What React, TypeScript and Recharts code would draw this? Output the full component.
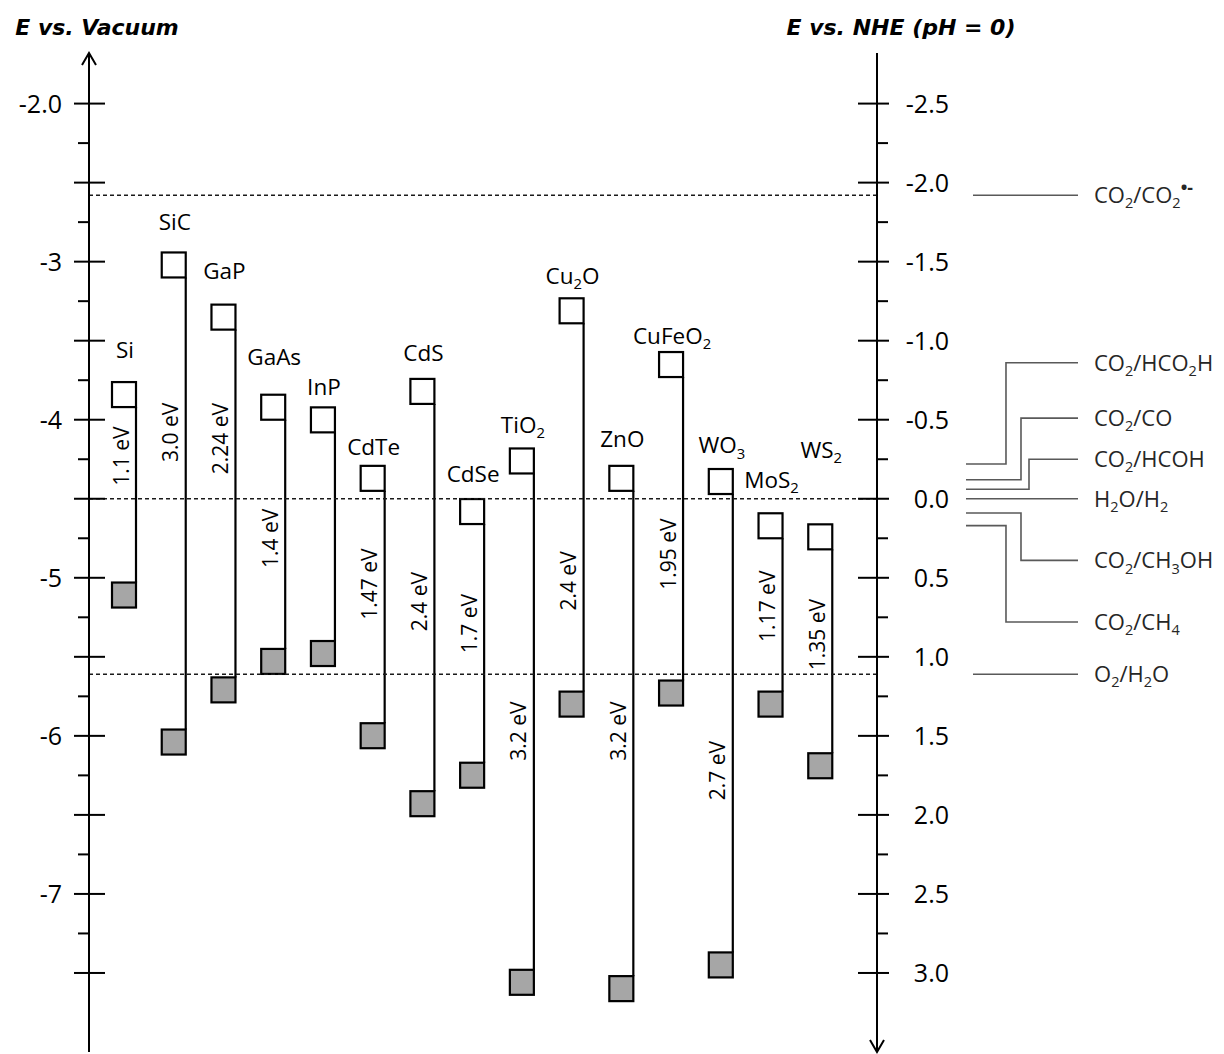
import React from 'react';
import { ComposedChart, LineChart, Bar, Line, XAxis, YAxis, ReferenceLine, Label } from 'recharts';

const FONT = "'Open Sans', 'Noto Sans', 'DejaVu Sans', sans-serif";
const TITLE_FONT = "'DejaVu Sans', 'Open Sans', sans-serif";

// ---------------- data ----------------
const materials = ['Si', 'SiC', 'GaP', 'GaAs', 'InP', 'CdTe', 'CdS', 'CdSe', 'TiO2', 'Cu2O', 'ZnO', 'CuFeO2', 'WO3', 'MoS2', 'WS2'];
const materialLabels = ['Si', 'SiC', 'GaP', 'GaAs', 'InP', 'CdTe', 'CdS', 'CdSe', 'TiO_{2}', 'Cu_{2}O', 'ZnO', 'CuFeO_{2}', 'WO_{3}', 'MoS_{2}', 'WS_{2}'];
// conduction band edge (eV vs vacuum)
const cbEdge = [-3.92, -3.10, -3.43, -4.00, -4.08, -4.45, -3.90, -4.66, -4.34, -3.39, -4.45, -3.73, -4.47, -4.75, -4.82];
// valence band edge (eV vs vacuum)
const vbEdge = [-5.03, -5.96, -5.63, -5.45, -5.40, -5.92, -6.35, -6.17, -7.48, -5.72, -7.52, -5.65, -7.37, -5.72, -6.11];
const gapText = ['1.1 eV', '3.0 eV', '2.24 eV', '1.4 eV', '', '1.47 eV', '2.4 eV', '1.7 eV', '3.2 eV', '2.4 eV', '3.2 eV', '1.95 eV', '2.7 eV', '1.17 eV', '1.35 eV'];
// where the annotations sit (eV vs vacuum)
const gapLabelAt = [-4.23, -4.08, -4.12, -4.75, NaN, -5.04, -5.15, -5.29, -5.97, -5.02, -5.97, -4.85, -6.22, -5.18, -5.36];
const nameLabelAt = [-3.56, -2.75, -3.06, -3.60, -3.79, -4.17, -3.58, -4.34, -4.03, -3.09, -4.12, -3.47, -4.16, -4.38, -4.19];

// axis ticks
const vacMajorTicks = [-2, -2.5, -3, -3.5, -4, -4.5, -5, -5.5, -6, -6.5, -7, -7.5];
const vacMinorTicks = [-2.25, -2.75, -3.25, -3.75, -4.25, -4.75, -5.25, -5.75, -6.25, -6.75, -7.25];
const vacLabeledTicks = [-2, -3, -4, -5, -6, -7];
const vacTickLabels = ['-2.0', '-3', '-4', '-5', '-6', '-7'];
const nheMajorTicks = [-2.5, -2, -1.5, -1, -0.5, 0, 0.5, 1, 1.5, 2, 2.5, 3];
const nheMinorTicks = [-2.25, -1.75, -1.25, -0.75, -0.25, 0.25, 0.75, 1.25, 1.75, 2.25, 2.75];
const nheTickLabels = ['-2.5', '-2.0', '-1.5', '-1.0', '-0.5', '0.0', '0.5', '1.0', '1.5', '2.0', '2.5', '3.0'];

// redox potentials (V vs NHE, pH 0)
const reactionLabels = ['CO_{2}/CO_{2}^{•-}', 'CO_{2}/HCO_{2}H', 'CO_{2}/CO', 'CO_{2}/HCOH', 'H_{2}O/H_{2}', 'CO_{2}/CH_{3}OH', 'CO_{2}/CH_{4}', 'O_{2}/H_{2}O'];
const reactionPotential = [-1.92, -0.22, -0.12, -0.06, 0.0, 0.09, 0.17, 1.11];
const reactionLabelAt = [-1.92, -0.86, -0.51, -0.25, 0.0, 0.39, 0.78, 1.11];
const dashedReactionIdx = [0, 4, 7];

// connector geometry inside the reaction strip (fraction of strip width)
const connectorStart = [0.0625, 0, 0, 0, 0, 0, 0, 0.0625];
const connectorStep = [1, 0.357, 0.491, 0.5625, 1, 0.491, 0.357, 1];

// ---------------- layout ----------------
const WIDTH = 1224;
const HEIGHT = 1054;
const PLOT_TOP = 53;
const PLOT_BOTTOM = 2;
const AXIS_LEFT_X = 89;
const AXIS_RIGHT_X = 877;
const YAXIS_W = 80;
const STRIP_LEFT = 966;
const STRIP_RIGHT = 1078;
const BOX_W = 24;
const BOX_H = 25;
const NHE_ZERO_VAC = -4.5;
const vacDomain: [number, number] = [-8, -1.68];
const nheDomain: [number, number] = [NHE_ZERO_VAC - vacDomain[1], NHE_ZERO_VAC - vacDomain[0]];

const vacTicks = [...vacMajorTicks, ...vacMinorTicks].sort((a, b) => b - a);
const nheTicks = [...nheMajorTicks, ...nheMinorTicks].sort((a, b) => a - b);

// ---------------- helpers ----------------
type Part = { t: string; k: 'n' | 'sub' | 'sup' };
function parseRich(s: string): Part[] {
  const parts: Part[] = [];
  const re = /_\{([^}]*)\}|\^\{([^}]*)\}/g;
  let last = 0;
  let m: RegExpExecArray | null;
  while ((m = re.exec(s))) {
    if (m.index > last) parts.push({ t: s.slice(last, m.index), k: 'n' });
    if (m[1] !== undefined) parts.push({ t: m[1], k: 'sub' });
    else parts.push({ t: m[2], k: 'sup' });
    last = re.lastIndex;
  }
  if (last < s.length) parts.push({ t: s.slice(last), k: 'n' });
  return parts;
}

function RichText({ x, y, text, fontSize, anchor = 'middle', fill = '#000' }: any) {
  const parts = parseRich(text);
  let cur = 0;
  const spans = parts.map((p, i) => {
    const target = p.k === 'sub' ? 0.24 * fontSize : p.k === 'sup' ? -0.4 * fontSize : 0;
    const dy = target - cur;
    cur = target;
    const size = p.k === 'n' ? fontSize : p.k === 'sub' ? fontSize * 0.66 : fontSize * 0.8;
    return (
      <tspan key={i} dy={dy} fontSize={size} fontWeight={p.k === 'sup' ? 700 : 400}>
        {p.t}
      </tspan>
    );
  });
  return (
    <text x={x} y={y + 0.36 * fontSize} textAnchor={anchor} fontSize={fontSize} fontFamily={FONT} fill={fill}>
      {spans}
    </text>
  );
}

const isMajor = (v: number) => Math.abs(v * 2 - Math.round(v * 2)) < 1e-6;
const lookup = (values: number[], labels: string[], v: number) => {
  const i = values.findIndex((t) => Math.abs(t - v) < 1e-6);
  return i >= 0 ? labels[i] : '';
};

const VacTick = (props: any) => {
  const { x, y, payload } = props;
  const v = payload.value;
  const major = isMajor(v);
  const label = lookup(vacLabeledTicks, vacTickLabels, v);
  return (
    <g>
      <line x1={x - (major ? 15 : 11)} x2={x + (major ? 16 : 0)} y1={y} y2={y} stroke="#000" strokeWidth={2} />
      {label ? (
        <text x={x - 27} y={y} dy="0.36em" textAnchor="end" fontSize={25} fontFamily={FONT} fill="#000">
          {label}
        </text>
      ) : null}
    </g>
  );
};

const NheTick = (props: any) => {
  const { x, y, payload } = props;
  const v = payload.value;
  const major = isMajor(v);
  const label = lookup(nheMajorTicks, nheTickLabels, v);
  return (
    <g>
      <line x1={x - (major ? 19 : 0)} x2={x + (major ? 12 : 11)} y1={y} y2={y} stroke="#000" strokeWidth={2} />
      {label ? (
        <text x={x + 72} y={y} dy="0.36em" textAnchor="end" fontSize={25} fontFamily={FONT} fill="#000">
          {label}
        </text>
      ) : null}
    </g>
  );
};

const BandShape = (props: any) => {
  const { x, y, width, height, payload } = props;
  if (!payload) return <g />;
  const top = Math.min(y, y + height);
  const bottom = Math.max(y, y + height);
  const span = payload.cb - payload.vb;
  const toY = (e: number) => top + ((payload.cb - e) / span) * (bottom - top);
  const right = x + width;
  const cx = x + width / 2;
  const gy = toY(payload.gapAt);
  return (
    <g>
      <line x1={right} x2={right} y1={top} y2={bottom} stroke="#000" strokeWidth={2.2} />
      <rect x={x} y={top - BOX_H} width={width} height={BOX_H} fill="#fff" stroke="#000" strokeWidth={2.2} />
      <rect x={x} y={bottom} width={width} height={BOX_H} fill="#a6a6a6" stroke="#000" strokeWidth={2.2} />
      <RichText x={cx + 1} y={toY(payload.nameAt)} text={payload.label} fontSize={22.5} />
      {payload.gap ? (
        <text
          x={cx - 3}
          y={gy}
          dy="0.36em"
          textAnchor="middle"
          fontSize={21}
          fontFamily={FONT}
          fill="#000"
          transform={`rotate(-90 ${cx - 3} ${gy})`}
        >
          {payload.gap}
        </text>
      ) : null}
    </g>
  );
};

const titleStyle = { fontSize: 22, fontFamily: TITLE_FONT, fontWeight: 700, fontStyle: 'italic' as const, fill: '#000' };

export default function App() {
  const rows = materials.map((name, i) => ({
    name,
    label: materialLabels[i],
    cb: cbEdge[i],
    vb: vbEdge[i],
    gap: gapText[i],
    gapAt: gapLabelAt[i],
    nameAt: nameLabelAt[i],
  }));

  const scheme = reactionLabels.map((lab, i) => ({
    label: lab,
    points: [
      { x: connectorStart[i], y: reactionPotential[i] },
      { x: connectorStep[i], y: reactionLabelAt[i] },
      { x: 1, y: reactionLabelAt[i] },
    ],
  }));

  return (
    <div style={{ position: 'absolute', left: 0, top: 0, width: WIDTH, height: HEIGHT, background: '#fff' }}>
      <svg width={0} height={0} style={{ position: 'absolute' }}>
        <defs>
          <marker
            id="axisArrow"
            markerUnits="userSpaceOnUse"
            markerWidth={24}
            markerHeight={24}
            viewBox="-16 -12 24 24"
            refX={0}
            refY={0}
            orient="auto-start-reverse"
            overflow="visible"
          >
            <path d="M -12 -7 L 0 0 L -12 7" fill="none" stroke="#000" strokeWidth={2} />
          </marker>
        </defs>
      </svg>

      <div style={{ position: 'absolute', left: 0, top: 0 }}>
        <ComposedChart
          width={WIDTH}
          height={HEIGHT}
          data={rows}
          margin={{ top: PLOT_TOP, right: WIDTH - AXIS_RIGHT_X - YAXIS_W, bottom: PLOT_BOTTOM, left: AXIS_LEFT_X - YAXIS_W }}
        >
          <XAxis xAxisId="mat" dataKey="name" type="category" hide padding={{ left: 10, right: 32 }} />
          <YAxis
            yAxisId="vac"
            orientation="left"
            type="number"
            domain={vacDomain}
            ticks={vacTicks}
            interval={0}
            width={YAXIS_W}
            tickSize={0}
            tickMargin={0}
            tickLine={false}
            axisLine={{ stroke: '#000', strokeWidth: 2, markerStart: 'url(#axisArrow)' } as any}
            tick={VacTick}
          >
            <Label
              content={(p: any) => {
                const vb = p.viewBox || { x: 9, y: PLOT_TOP, width: YAXIS_W };
                return (
                  <text x={vb.x + vb.width + 8} y={vb.y - 18} textAnchor="middle" {...titleStyle}>
                    E vs. Vacuum
                  </text>
                );
              }}
            />
          </YAxis>
          <YAxis
            yAxisId="nhe"
            orientation="right"
            type="number"
            domain={nheDomain}
            allowDataOverflow
            reversed
            ticks={nheTicks}
            interval={0}
            width={YAXIS_W}
            tickSize={0}
            tickMargin={0}
            tickLine={false}
            axisLine={{ stroke: '#000', strokeWidth: 2, markerEnd: 'url(#axisArrow)' } as any}
            tick={NheTick}
          >
            <Label
              content={(p: any) => {
                const vb = p.viewBox || { x: AXIS_RIGHT_X, y: PLOT_TOP, width: YAXIS_W };
                return (
                  <text x={vb.x + 24} y={vb.y - 18} textAnchor="middle" {...titleStyle}>
                    E vs. NHE (pH = 0)
                  </text>
                );
              }}
            />
          </YAxis>
          {dashedReactionIdx.map((ri) => (
            <ReferenceLine
              key={ri}
              xAxisId="mat"
              yAxisId="nhe"
              y={reactionPotential[ri]}
              stroke="#1a1a1a"
              strokeWidth={1.4}
              strokeDasharray="4 3"
            />
          ))}
          <Bar
            xAxisId="mat"
            yAxisId="vac"
            dataKey={(d: any) => [d.vb, d.cb]}
            barSize={BOX_W}
            shape={BandShape}
            isAnimationActive={false}
          />
        </ComposedChart>
      </div>

      <div style={{ position: 'absolute', left: 0, top: 0, pointerEvents: 'none' }}>
        <LineChart
          width={WIDTH}
          height={HEIGHT}
          margin={{ top: PLOT_TOP, right: WIDTH - STRIP_RIGHT, bottom: PLOT_BOTTOM, left: STRIP_LEFT }}
        >
          <XAxis type="number" dataKey="x" domain={[0, 1]} hide />
          <YAxis type="number" domain={nheDomain} reversed hide />
          {scheme.map((s, i) => (
            <Line
              key={i}
              data={s.points}
              dataKey="y"
              type="stepAfter"
              stroke="#595959"
              strokeWidth={1.6}
              isAnimationActive={false}
              activeDot={false}
              dot={(p: any) =>
                p.index === 2 ? (
                  <g key={`lab-${i}`}>
                    <RichText x={p.cx + 16} y={p.cy} text={s.label} fontSize={22} anchor="start" fill="#262626" />
                  </g>
                ) : (
                  <g key={`d-${i}-${p.index}`} />
                )
              }
            />
          ))}
        </LineChart>
      </div>
    </div>
  );
}
